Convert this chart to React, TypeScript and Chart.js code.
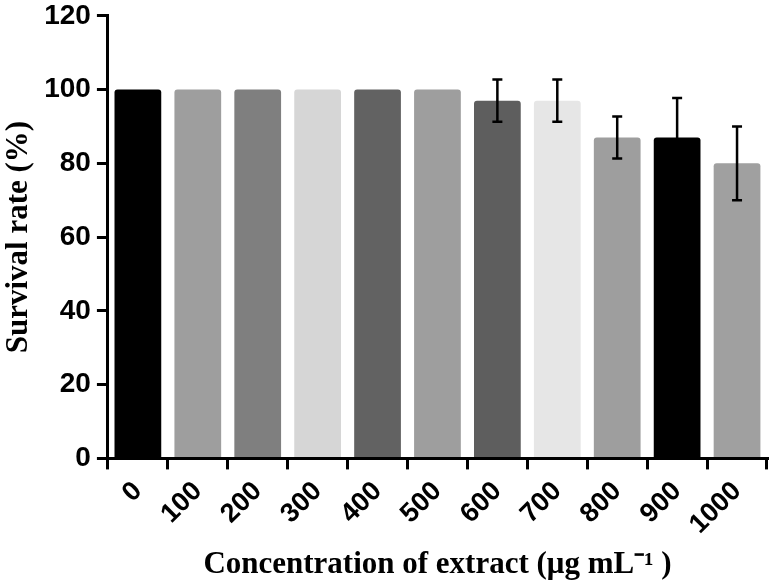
import React, { useEffect, useRef } from "react";
import { Chart, registerables } from "chart.js";

Chart.register(...registerables);

const categories = ["0", "100", "200", "300", "400", "500", "600", "700", "800", "900", "1000"];
const survival = [100, 100, 100, 100, 100, 100, 97, 97, 87, 87, 80];
const sdValues = [0, 0, 0, 0, 0, 0, 5.7, 5.7, 5.7, 10.7, 10];
const barColors = ["#000000", "#9e9e9e", "#7f7f7f", "#d6d6d6", "#626262", "#9e9e9e", "#5e5e5e", "#e6e6e6", "#9e9e9e", "#000000", "#a0a0a0"];
const yTicks = [0, 20, 40, 60, 80, 100, 120];

const errorBarPlugin = {
  id: "errorBars",
  afterDatasetsDraw(chart: any) {
    const meta = chart.getDatasetMeta(0);
    const yScale = chart.scales.y;
    const ctx = chart.ctx;
    ctx.save();
    ctx.strokeStyle = "#000";
    ctx.lineWidth = 2.5;
    meta.data.forEach((bar: any, i: number) => {
      const sd = sdValues[i];
      if (!sd) return;
      const x = bar.x;
      const top = yScale.getPixelForValue(survival[i] + sd);
      const bot = yScale.getPixelForValue(survival[i] - sd);
      const cap = 5;
      ctx.beginPath();
      ctx.moveTo(x, top);
      ctx.lineTo(x, bot);
      ctx.moveTo(x - cap, top);
      ctx.lineTo(x + cap, top);
      ctx.moveTo(x - cap, bot);
      ctx.lineTo(x + cap, bot);
      ctx.stroke();
    });
    ctx.restore();
  },
};

export default function App() {
  const ref = useRef<HTMLCanvasElement>(null);
  useEffect(() => {
    const chart = new Chart(ref.current!, {
      type: "bar",
      data: {
        labels: categories,
        datasets: [
          {
            data: survival,
            backgroundColor: barColors,
            borderWidth: 0,
            borderRadius: { topLeft: 3, topRight: 3, bottomLeft: 0, bottomRight: 0 },
            borderSkipped: false,
            categoryPercentage: 1,
            barPercentage: 0.78,
          },
        ],
      },
      options: {
        animation: false,
        responsive: true,
        maintainAspectRatio: false,
        layout: { padding: { left: 0, right: 7, top: 0, bottom: 0 } },
        plugins: {
          legend: { display: false },
          tooltip: { enabled: false },
        },
        scales: {
          x: {
            grid: {
              display: true,
              drawOnChartArea: false,
              drawTicks: true,
              tickLength: 11,
              color: "#000",
              lineWidth: 3,
            },
            border: { display: true, color: "#000", width: 3 },
            ticks: {
              color: "#000",
              font: { family: "Liberation Sans", weight: "bold", size: 27 },
              minRotation: 45,
              maxRotation: 45,
              padding: 6,
            },
            title: {
              display: true,
              text: "Concentration of extract (μg mL⁻¹ )",
              color: "#000",
              font: { family: "Liberation Serif", weight: "bold", size: 31 },
              padding: { top: 0, bottom: 0 },
            },
          },
          y: {
            min: 0,
            max: 120,
            afterBuildTicks: (axis: any) => {
              axis.ticks = yTicks.map((v) => ({ value: v }));
            },
            grid: {
              display: true,
              drawOnChartArea: false,
              drawTicks: true,
              tickLength: 11,
              color: "#000",
              lineWidth: 3,
            },
            border: { display: true, color: "#000", width: 3 },
            ticks: {
              color: "#000",
              font: { family: "Liberation Sans", weight: "bold", size: 28 },
              padding: 6,
            },
            title: {
              display: true,
              text: "Survival rate (%)",
              color: "#000",
              font: { family: "Liberation Serif", weight: "bold", size: 31 },
              padding: { top: 0, bottom: 1 },
            },
          },
        },
      },
      plugins: [errorBarPlugin],
    });
    return () => chart.destroy();
  }, []);
  return (
    <div style={{ position: "fixed", left: 0, top: 0, width: 774, height: 584, background: "#fff", overflow: "hidden" }}>
      <div style={{ position: "absolute", left: 0, top: -7, width: 774, height: 591 }}>
        <canvas ref={ref} />
      </div>
    </div>
  );
}
